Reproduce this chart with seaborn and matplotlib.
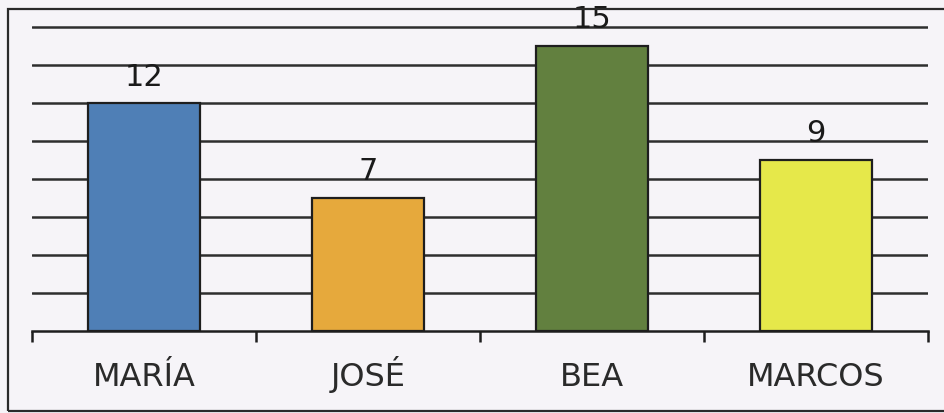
import matplotlib
matplotlib.use('Agg')
import matplotlib.pyplot as plt
import matplotlib.patches as patches
import seaborn as sns
import pandas as pd

# data
names = ['MARÍA', 'JOSÉ', 'BEA', 'MARCOS']
values = [12, 7, 15, 9]
colors = ['#4f7fb6', '#e6a93c', '#62803f', '#e6e84a']
grid_levels = [2, 4, 6, 8, 10, 12, 14, 16]

df = pd.DataFrame({'nombre': names, 'valor': values})

sns.set_style('white')
plt.rcParams['font.family'] = ['DejaVu Sans']

bg = '#f6f4f8'
fig = plt.figure(figsize=(9.44, 4.14), dpi=100, facecolor=bg)

# outer frame
fig.patches.append(patches.Rectangle((8 / 944, 2 / 414), 1.2, 402 / 414,
                                     transform=fig.transFigure, fill=False,
                                     edgecolor='#2a2a2a', linewidth=1.6))

ax = fig.add_axes([32 / 944, 82 / 414, 896 / 944, 16.5 * 19 / 414])
ax.set_facecolor(bg)

sns.barplot(data=df, x='nombre', y='valor', hue='nombre', palette=colors,
            legend=False, width=0.5, saturation=1, edgecolor='#1e1e1e',
            linewidth=1.6, ax=ax, zorder=3)

ax.set_xlim(-0.5, 3.5)
ax.set_ylim(0, 16.5)
ax.set_yticks(grid_levels)
ax.set_yticklabels([])
ax.tick_params(axis='y', length=0)
ax.grid(axis='y', color='#2e2e2e', linewidth=1.8, zorder=0)
ax.set_axisbelow(True)

# boundary ticks between categories
ax.set_xticks([-0.5, 0.5, 1.5, 2.5, 3.5], minor=True)
ax.tick_params(axis='x', which='minor', bottom=True, direction='out',
               length=8, width=1.8, color='#1e1e1e')
ax.tick_params(axis='x', which='major', bottom=True, length=0, pad=39,
               labelsize=23, labelcolor='#2a2a2a')
for lab in ax.get_xticklabels():
    lab.set_verticalalignment('baseline')

for side in ['top', 'left', 'right']:
    ax.spines[side].set_visible(False)
ax.spines['bottom'].set_color('#1e1e1e')
ax.spines['bottom'].set_linewidth(1.8)

ax.set_xlabel('')
ax.set_ylabel('')

for i, v in enumerate(values):
    ax.annotate(str(v), (i, v), xytext=(0, 9), textcoords='offset points',
                ha='center', va='bottom', fontsize=22, color='#1a1a1a',
                zorder=4)

fig.savefig('out.png', dpi=100, facecolor=bg)
